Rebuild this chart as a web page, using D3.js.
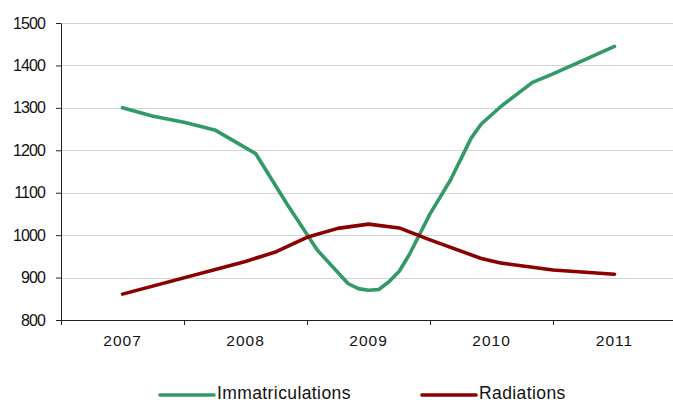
<!DOCTYPE html>
<html>
<head>
<meta charset="utf-8">
<script src="https://cdn.jsdelivr.net/npm/d3@7"></script>
<style>
  body { margin: 0; background: #fff; }
  svg { display: block; font-family: "Liberation Sans", Arial, sans-serif; }
</style>
</head>
<body>
<svg id="chart" width="673" height="403"></svg>
<script>
// categories (years) and monthly readings, month 0 = 2007
const years = ['2007', '2008', '2009', '2010', '2011'];
const yTicks = [800, 900, 1000, 1100, 1200, 1300, 1400, 1500];

const immatMonths = [0, 3, 6, 9, 13, 16, 19, 22, 23, 24, 25, 26, 27, 28, 30, 32, 34, 35, 37, 40, 42, 48];
const immatValues = [1300, 1280, 1266, 1248, 1192, 1075, 965, 886, 874, 870, 872, 890, 915, 955, 1050, 1130, 1228, 1262, 1305, 1360, 1380, 1445];

const radMonths = [0, 12, 15, 18, 21, 24, 27, 30, 35, 37, 42, 48];
const radValues = [861, 938, 961, 995, 1016, 1026, 1017, 989, 945, 934, 918, 908];

const series = [
    {name: 'Immatriculations', color: '#339966', months: immatMonths, values: immatValues},
    {name: 'Radiations', color: '#8b0000', months: radMonths, values: radValues}
];

const svg = d3.select('#chart');
const mLeft = 61, mRight = 676, mTop = 23, mBottom = 320;

//bandes des années
let xBand = d3.scaleBand().domain(years).range([mLeft, mRight]);
//position des mois : centre de 2007 -> centre de 2011
let xMonth = d3.scaleLinear()
    .domain([0, 48])
    .range([xBand('2007') + xBand.bandwidth() / 2, xBand('2011') + xBand.bandwidth() / 2]);
let y = d3.scaleLinear().domain([800, 1500]).range([mBottom, mTop]);

//grille
svg.append('g')
    .selectAll('line')
    .data(yTicks.slice(1))
    .enter()
    .append('line')
    .attr('x1', mLeft).attr('x2', 673)
    .attr('y1', d => Math.round(y(d)) + 0.5).attr('y2', d => Math.round(y(d)) + 0.5)
    .attr('stroke', '#d4d4d4')
    .attr('stroke-width', 1);

//axe Y
let yAxis = svg.append('g')
    .attr('transform', `translate(${mLeft},0)`)
    .call(d3.axisLeft(y).tickValues(yTicks).tickFormat(d3.format('d')).tickSize(5).tickPadding(11).tickSizeOuter(0));
yAxis.select('.domain').attr('stroke', '#222');
yAxis.selectAll('.tick line').attr('stroke', '#222');
yAxis.selectAll('text')
    .attr('font-size', 16)
    .attr('letter-spacing', '-0.9px')
    .attr('fill', '#111')
    .attr('font-family', '"Liberation Sans", Arial, sans-serif');

//axe X
let xAxis = svg.append('g')
    .attr('transform', `translate(0,${mBottom})`)
    .call(d3.axisBottom(xBand).tickSize(0).tickPadding(15));
xAxis.select('.domain').attr('stroke', '#222').attr('d', `M${mLeft},0.5H673`);
xAxis.selectAll('text')
    .attr('font-size', 15.5)
    .attr('letter-spacing', '1px')
    .attr('fill', '#111')
    .attr('font-family', '"Liberation Sans", Arial, sans-serif');
//graduations entre les années
svg.append('g')
    .selectAll('line')
    .data(years)
    .enter()
    .append('line')
    .attr('x1', d => Math.round(xBand(d)) + 0.5)
    .attr('x2', d => Math.round(xBand(d)) + 0.5)
    .attr('y1', mBottom).attr('y2', mBottom + 5)
    .attr('stroke', '#222');

//courbes
let line = d3.line()
    .x(d => xMonth(d[0]))
    .y(d => y(d[1]));

series.forEach(function(s) {
    let pts = s.months.map((m, i) => [m, s.values[i]]);
    svg.append('path')
        .datum(pts)
        .attr('fill', 'none')
        .attr('stroke', s.color)
        .attr('stroke-width', 3.6)
        .attr('stroke-linejoin', 'round')
        .attr('stroke-linecap', 'round')
        .attr('d', line);
});

//légende
let legendX = [160, 422];
let legend = svg.append('g')
    .selectAll('g')
    .data(series)
    .enter()
    .append('g')
    .attr('transform', (d, i) => `translate(${legendX[i]},395)`);
legend.append('line')
    .attr('x1', 0).attr('x2', 54)
    .attr('y1', 0).attr('y2', 0)
    .attr('stroke', d => d.color)
    .attr('stroke-width', 3.6)
    .attr('stroke-linecap', 'round');
legend.append('text')
    .attr('x', 57)
    .attr('y', 4)
    .attr('font-size', 17.5)
    .attr('letter-spacing', '0.4px')
    .attr('fill', '#111')
    .text(d => d.name);
</script>
</body>
</html>
